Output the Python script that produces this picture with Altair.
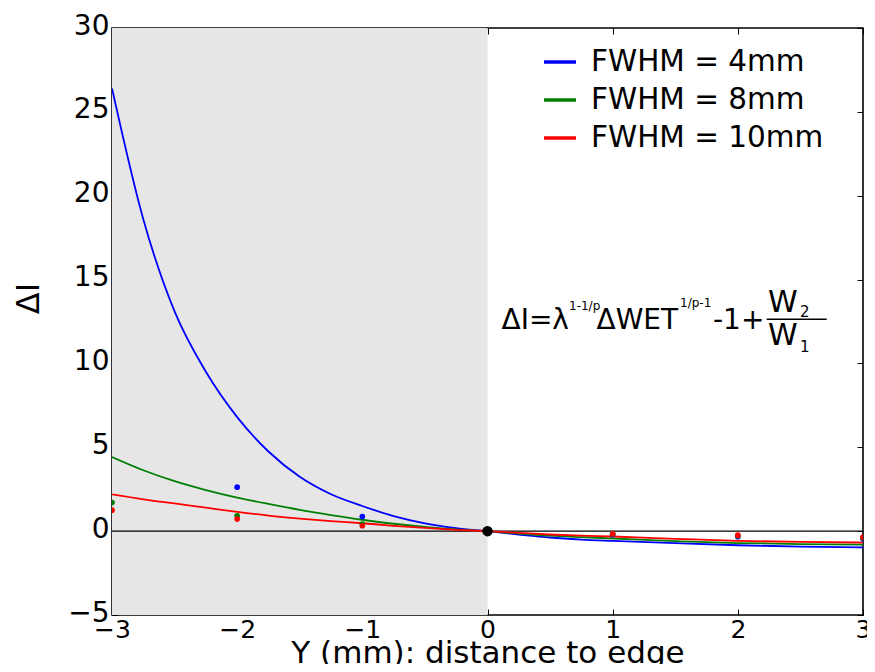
import altair as alt
import pandas as pd

# ---------------- data ----------------
series_names = ["FWHM = 4mm", "FWHM = 8mm", "FWHM = 10mm"]
series_colors = ["#0000ff", "#008000", "#ff0000"]

curve_x = [-3.0, -2.75, -2.5, -2.25, -2.0, -1.75, -1.5, -1.25, -1.0, -0.75, -0.5, -0.25,
           0.0, 0.25, 0.5, 0.75, 1.0, 1.5, 2.0, 2.5, 3.0]
curve_blue = [26.4, 18.6, 13.1, 9.5, 6.8, 4.75, 3.24, 2.2, 1.5, 0.9, 0.47, 0.18,
              0.0, -0.2, -0.38, -0.5, -0.58, -0.72, -0.84, -0.92, -0.97]
curve_green = [4.42, 3.63, 2.98, 2.45, 2.0, 1.62, 1.27, 0.96, 0.68, 0.44, 0.25, 0.1,
               0.0, -0.14, -0.27, -0.36, -0.44, -0.6, -0.71, -0.77, -0.80]
curve_red = [2.19, 1.9, 1.65, 1.4, 1.15, 0.93, 0.75, 0.6, 0.47, 0.32, 0.19, 0.08,
             0.0, -0.1, -0.2, -0.27, -0.32, -0.46, -0.58, -0.64, -0.68]

pts_x_blue = [-2, -1, 1, 2, 3]
pts_y_blue = [2.62, 0.87, -0.22, -0.33, -0.45]
pts_x_green = [-3, -2, -1, 1, 2, 3]
pts_y_green = [1.71, 0.91, 0.42, -0.18, -0.28, -0.40]
pts_x_red = [-3, -2, -1, 1, 2, 3]
pts_y_red = [1.25, 0.72, 0.32, -0.16, -0.24, -0.36]

origin_x = [0]
origin_y = [0]

shade_from = [-3]
shade_to = [0]
zero_level = [0]

x_ticks = [-3, -2, -1, 0, 1, 2, 3]
y_ticks = [-5, 0, 5, 10, 15, 20, 25, 30]
x_domain = [-3, 3]
y_domain = [-5, 30]

x_title = "Y (mm): distance to edge"
y_title = "ΔI"

formula_main_1 = "ΔI=λ"
formula_sup_1 = "1-1/p"
formula_main_2 = "ΔWET"
formula_sup_2 = "1/p-1"
formula_main_3 = "-1+"
formula_num = "W"
formula_num_sub = "2"
formula_den = "W"
formula_den_sub = "1"

# ---------------- tables ----------------
curve_rows = []
for name, ys in zip(series_names, [curve_blue, curve_green, curve_red]):
    for xv, yv in zip(curve_x, ys):
        curve_rows.append({"x": xv, "y": yv, "series": name})
curves = pd.DataFrame(curve_rows)

pt_rows = []
for name, xs, ys in zip(series_names,
                        [pts_x_blue, pts_x_green, pts_x_red],
                        [pts_y_blue, pts_y_green, pts_y_red]):
    for xv, yv in zip(xs, ys):
        pt_rows.append({"x": xv, "y": yv, "series": name})
points = pd.DataFrame(pt_rows)

W, H = 751, 587
FONT = "DejaVu Sans"

xscale = alt.Scale(domain=x_domain, nice=False, zero=False)
yscale = alt.Scale(domain=y_domain, nice=False, zero=False)
cscale = alt.Scale(domain=series_names, range=series_colors)

legend = alt.Legend(
    orient="none", legendX=430, legendY=16, title=None,
    symbolType="stroke", symbolSize=1024, symbolStrokeWidth=3.5,
    labelFontSize=29.5, labelFont=FONT, labelColor="black", labelOffset=13,
    rowPadding=5, padding=0, labelLimit=0,
)

shade = alt.Chart(pd.DataFrame({"a": shade_from, "b": shade_to})).mark_rect(
    color="#e6e6e6"
).encode(
    x=alt.X("a:Q", scale=xscale, axis=None),
    x2="b:Q",
    y=alt.value(0),
    y2=alt.value(H),
)

zero_rule = alt.Chart(pd.DataFrame({"y": zero_level})).mark_rule(
    color="black", strokeWidth=1.3
).encode(y=alt.Y("y:Q", scale=yscale, axis=None))

lines = alt.Chart(curves).mark_line(
    strokeWidth=1.8, clip=True, interpolate="monotone"
).encode(
    x=alt.X("x:Q", scale=xscale, axis=None),
    y=alt.Y("y:Q", scale=yscale, axis=None),
    color=alt.Color("series:N", scale=cscale, legend=legend),
)

dots = alt.Chart(points).mark_circle(size=32, opacity=1, clip=True).encode(
    x=alt.X("x:Q", scale=xscale, axis=None),
    y=alt.Y("y:Q", scale=yscale, axis=None),
    color=alt.Color("series:N", scale=cscale, legend=None),
)

origin = alt.Chart(pd.DataFrame({"x": origin_x, "y": origin_y})).mark_circle(
    size=110, color="black", opacity=1
).encode(
    x=alt.X("x:Q", scale=xscale, axis=None),
    y=alt.Y("y:Q", scale=yscale, axis=None),
)


def label(txt, px, py, size):
    return alt.Chart(pd.DataFrame({"t": [txt]})).mark_text(
        align="left", baseline="alphabetic", font=FONT, fontSize=size, color="black"
    ).encode(text="t:N", x=alt.value(px), y=alt.value(py))


formula = [
    label(formula_main_1, 389.5, 301.3, 28),
    label(formula_sup_1, 457, 281.5, 12),
    label(formula_main_2, 484.5, 301.3, 28),
    label(formula_sup_2, 568, 278.5, 12),
    label(formula_main_3, 601, 301.3, 28),
    label(formula_num, 656, 283.7, 30),
    label(formula_num_sub, 688, 288.5, 15),
    label(formula_den, 656, 317, 30),
    label(formula_den_sub, 688, 323.7, 15),
]
frac_line = alt.Chart(pd.DataFrame({"a": [0]})).mark_rule(
    color="black", strokeWidth=1.5
).encode(x=alt.value(654.7), x2=alt.value(714.7), y=alt.value(291.3))

main_axes = alt.Chart(curves).mark_point(opacity=0).encode(
    x=alt.X("x:Q", scale=xscale, axis=alt.Axis(
        orient="bottom", values=x_ticks, format="d", domain=False, grid=False,
        ticks=True, tickSize=6, tickColor="black", tickWidth=1, offset=-6,
        labelFontSize=25, labelFont=FONT, labelColor="black", labelPadding=2,
        labelFlush=False, labelOverlap=False,
        title=x_title, titleFontSize=31, titleFont=FONT, titleFontWeight="normal",
        titleColor="black", titleBaseline="alphabetic", titleAlign="center",
        titleX=W / 2, titleY=53,
    )),
    y=alt.Y("y:Q", scale=yscale, axis=alt.Axis(
        orient="left", values=y_ticks, format="d", domain=False, grid=False,
        ticks=True, tickSize=6, tickColor="black", tickWidth=1, offset=-6,
        labelFontSize=28, labelFont=FONT, labelColor="black", labelPadding=3,
        labelBaseline="alphabetic", labelOffset=6,
        labelFlush=False, labelOverlap=False,
        title=y_title, titleFontSize=32, titleFont=FONT, titleFontWeight="normal",
        titleColor="black", titleAngle=270, titleBaseline="alphabetic",
        titleAlign="center", titleX=-79.7, titleY=270,
    )),
)

tick_axes = alt.Chart(curves).mark_point(opacity=0).encode(
    x=alt.X("x:Q", scale=xscale, axis=alt.Axis(
        orient="top", values=x_ticks, labels=False, domain=False, grid=False,
        ticks=True, tickSize=6, tickColor="black", tickWidth=1, offset=-6, title=None,
    )),
    y=alt.Y("y:Q", scale=yscale, axis=alt.Axis(
        orient="right", values=y_ticks, labels=False, domain=False, grid=False,
        ticks=True, tickSize=6, tickColor="black", tickWidth=1, offset=-6, title=None,
    )),
)

chart = alt.layer(
    shade, zero_rule, lines, dots, origin, *formula, frac_line, main_axes, tick_axes
).resolve_axis(
    x="independent", y="independent"
).properties(
    width=W, height=H,
    autosize=alt.AutoSizeParams(type="none"),
    padding={"left": 104, "top": 20, "right": 4, "bottom": 49},
    background="white",
).configure_view(
    stroke="black", strokeWidth=1.6, fill="white"
)

chart.save("out.html", embed_options={"renderer": "svg", "actions": False})
